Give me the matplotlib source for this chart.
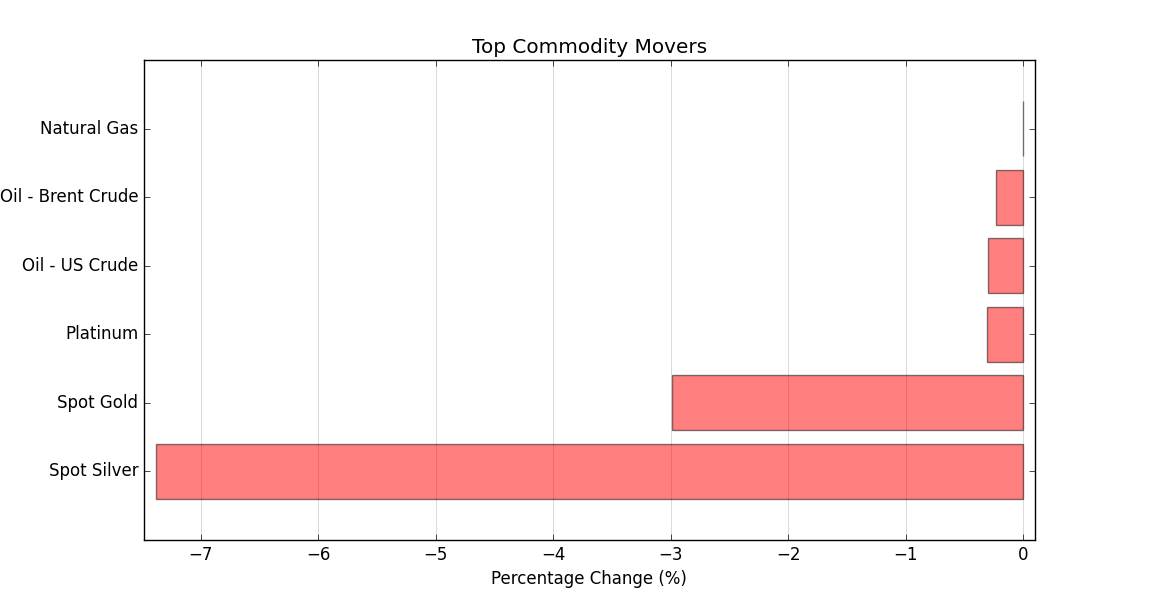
import matplotlib
matplotlib.use("Agg")
import matplotlib.pyplot as plt

# commodity moves, percentage change
commodities = ["Spot Silver", "Spot Gold", "Platinum", "Oil - US Crude",
               "Oil - Brent Crude", "Natural Gas"]
pct_change = [-7.385, -2.99, -0.31, -0.30, -0.235, 0.0]

plt.style.use("classic")
fig, ax = plt.subplots(figsize=(11.5, 6), dpi=100)
fig.patch.set_facecolor("white")

pos = range(len(commodities))
ax.barh(pos, pct_change, height=0.8, align="center",
        color="red", alpha=0.5, edgecolor="black", linewidth=1)
ax.set_yticks(list(pos))
ax.set_yticklabels(commodities)
ax.set_ylim(-1, 6)
ax.set_xlim(min(pct_change) - 0.1, max(pct_change) + 0.1)

ax.xaxis.grid(True, color="lightgray", linestyle="-", linewidth=0.6)
ax.set_axisbelow(True)

ax.set_title("Top Commodity Movers")
ax.set_xlabel("Percentage Change (%)")

fig.savefig("out.png", dpi=100, facecolor="white")
